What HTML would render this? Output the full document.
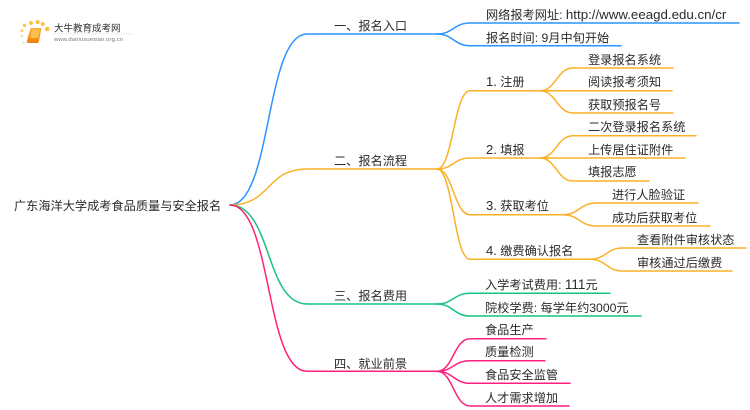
<!DOCTYPE html>
<html><head><meta charset="utf-8">
<style>
html,body{margin:0;padding:0;background:#fff;width:750px;height:410px;overflow:hidden}
text{font-family:"Liberation Sans","Noto Sans CJK SC",sans-serif;font-size:12.2px;fill:#2b2b2b}
.l{fill:none;stroke-width:1.5;stroke-linecap:round}
.b{stroke:#2d93ff}.o{stroke:#fbb126}.g{stroke:#16c47f}.p{stroke:#ff1f7d}
svg{filter:blur(.3px)}
</style></head><body>
<svg width="750" height="410" viewBox="0 0 750 410" xmlns="http://www.w3.org/2000/svg" style="display:block">
<defs><linearGradient id="bk" x1="0" y1="0" x2="0" y2="1"><stop offset="0" stop-color="#fbb13a"/><stop offset="1" stop-color="#f0800a"/></linearGradient></defs>
<!-- logo -->
<g fill="#fbc33a">
<circle cx="23.300" cy="42.500" r="1.100" opacity=".5"/><circle cx="21.700" cy="36" r="1.200" opacity=".6"/><circle cx="22" cy="30.700" r="1.500" opacity=".8"/><circle cx="24.500" cy="25.500" r="1.800" opacity=".9"/><circle cx="31" cy="23" r="2"/><circle cx="37.700" cy="22" r="2"/><circle cx="42.700" cy="24" r="2"/><circle cx="47.300" cy="29" r="2.300"/>
</g>
<path d="M30.500 28h11l-2.700 13.800q-.3 1.200-1.500 1.200H28.500q-2 0-1.600-2z" fill="url(#bk)"/>
<path d="M32 29.500h7.800l-1.700 8.500H30.300z" fill="#fcc04f"/>
<text x="54" y="31.500" style="font-size:9.500px;fill:#333">大牛教育成考网</text>
<text x="54" y="41" style="font-size:5.800px;fill:#777" textLength="69">www.daniuxuexiao.org.cn</text>
<rect x="52" y="33.500" width="80" height="1" fill="#eee"/>

<!-- main branches -->
<path class="l b" d="M230 205C272 205 265 34 307 34H437"/>
<path class="l o" d="M230 205C272 205 265 169 307 169H437"/>
<path class="l g" d="M230 205C272 205 265 304 307 304H437"/>
<path class="l p" d="M230 205C272 205 265 371.300 307 371.300H437"/>

<!-- blue -->
<path class="l b" d="M437 34C453 34 454 23 470 23H739"/>
<path class="l b" d="M437 34C453 34 454 45.700 470 45.700H621"/>

<!-- orange level 2 -->
<path class="l o" d="M437 169C453 169 454 90.700 470 90.700H540"/>
<path class="l o" d="M437 169C453 169 454 158 470 158H540"/>
<path class="l o" d="M437 169C453 169 454 214.700 470 214.700H563"/>
<path class="l o" d="M437 169C453 169 454 259.300 470 259.300H590"/>

<!-- orange level 3 -->
<path class="l o" d="M540 90.700C556 90.700 557 68 573 68H673"/>
<path class="l o" d="M540 90.700H672"/>
<path class="l o" d="M540 90.700C556 90.700 557 113 573 113H673"/>
<path class="l o" d="M540 158C556 158 557 135.700 573 135.700H696"/>
<path class="l o" d="M540 158H685"/>
<path class="l o" d="M540 158C556 158 557 181 573 181H649"/>
<path class="l o" d="M563 214.700C579 214.700 580 203 596 203H698"/>
<path class="l o" d="M563 214.700C579 214.700 580 226 596 226H710"/>
<path class="l o" d="M590 259.300C606 259.300 607 248 622 248H746"/>
<path class="l o" d="M590 259.300C606 259.300 607 271 622 271H732"/>

<!-- green -->
<path class="l g" d="M437 304C453 304 454 293.300 470 293.300H610"/>
<path class="l g" d="M437 304C453 304 454 316 470 316H641"/>

<!-- pink -->
<path class="l p" d="M437 371.300C453 371.300 454 338.700 470 338.700H546"/>
<path class="l p" d="M437 371.300C453 371.300 454 360.700 470 360.700H545"/>
<path class="l p" d="M437 371.300C453 371.300 454 383.300 470 383.300H570"/>
<path class="l p" d="M437 371.300C453 371.300 454 406 470 406H569"/>

<!-- labels -->
<text x="14" y="210">广东海洋大学成考食品质量与安全报名</text>
<text x="334" y="30">一、报名入口</text>
<text x="334" y="165">二、报名流程</text>
<text x="334" y="300">三、报名费用</text>
<text x="334" y="368">四、就业前景</text>

<text x="486" y="19">网络报考网址: <tspan style="font-size:13.300px">http://www.eeagd.edu.cn/cr</tspan></text>
<text x="486" y="42">报名时间: 9月中旬开始</text>

<text x="486" y="86"><tspan style="font-size:13px">1.</tspan> 注册</text>
<text x="486" y="154"><tspan style="font-size:13px">2.</tspan> 填报</text>
<text x="486" y="210"><tspan style="font-size:13px">3.</tspan> 获取考位</text>
<text x="486" y="255"><tspan style="font-size:13px">4.</tspan> 缴费确认报名</text>

<text x="588" y="64">登录报名系统</text>
<text x="588" y="86">阅读报考须知</text>
<text x="588" y="109">获取预报名号</text>
<text x="588" y="131">二次登录报名系统</text>
<text x="588" y="154">上传居住证附件</text>
<text x="588" y="176">填报志愿</text>
<text x="612" y="199">进行人脸验证</text>
<text x="612" y="222">成功后获取考位</text>
<text x="637" y="244">查看附件审核状态</text>
<text x="637" y="267">审核通过后缴费</text>

<text x="485" y="289">入学考试费用: <tspan style="font-size:13.500px">111</tspan>元</text>
<text x="485" y="312">院校学费: 每学年约3000元</text>
<text x="485" y="334">食品生产</text>
<text x="485" y="356">质量检测</text>
<text x="485" y="379">食品安全监管</text>
<text x="485" y="402">人才需求增加</text>
</svg>
</body></html>
